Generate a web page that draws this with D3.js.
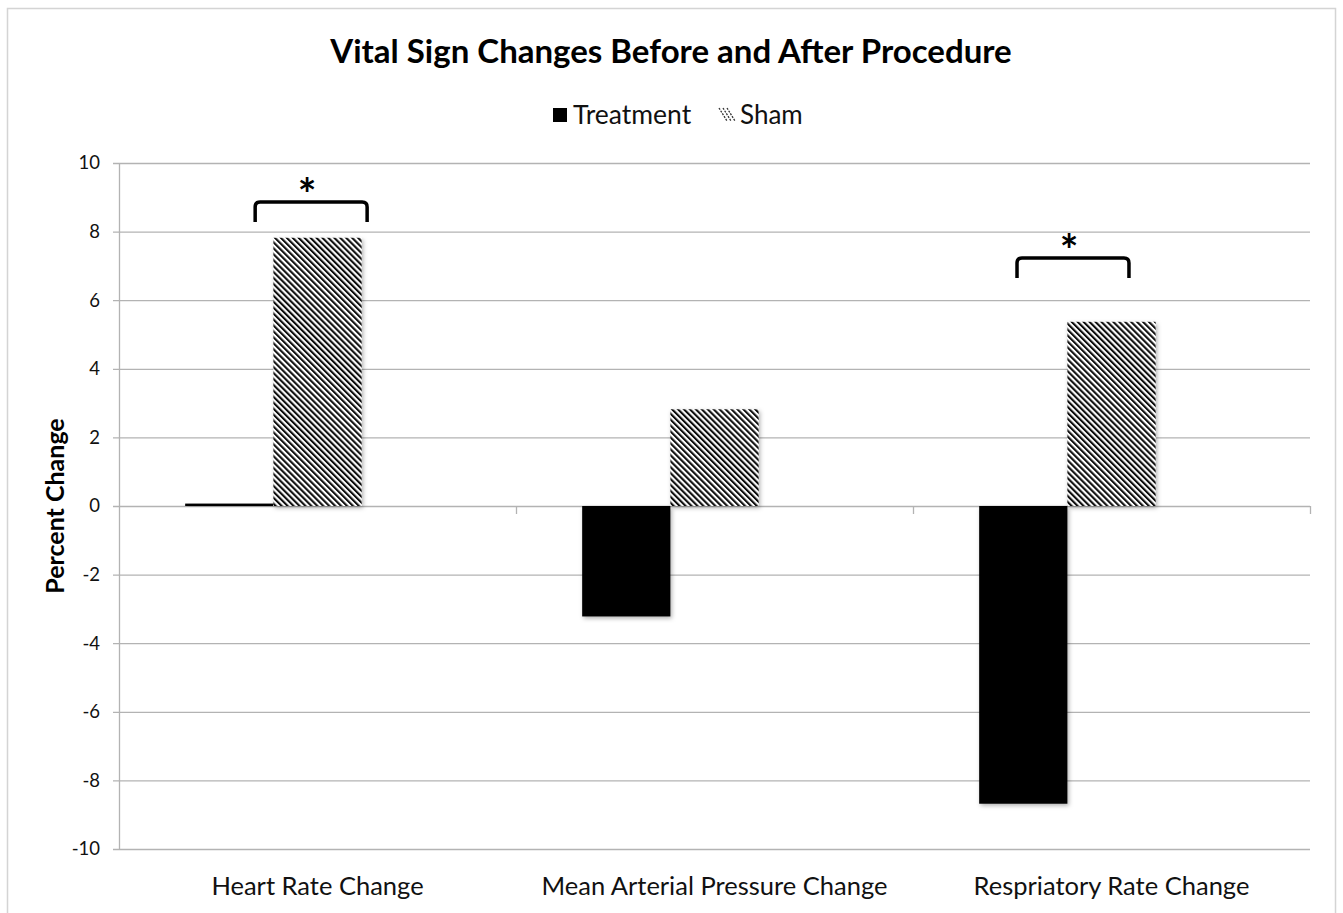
<!DOCTYPE html>
<html><head><meta charset="utf-8">
<script src="https://cdn.jsdelivr.net/npm/d3@7"></script>
<style>body{margin:0;background:#fff;} svg{display:block;}</style>
</head><body>
<svg id="chart" width="1343" height="913"></svg>
<script>
const categories = ["Heart Rate Change", "Mean Arterial Pressure Change", "Respriatory Rate Change"];
const seriesNames = ["Treatment", "Sham"];
const treatment = [0.07, -3.22, -8.68];
const sham = [7.82, 2.82, 5.37];
const yTicks = [-10, -8, -6, -4, -2, 0, 2, 4, 6, 8, 10];
// significance brackets: category, level (in % units)
const bracketCats = ["Heart Rate Change", "Respriatory Rate Change"];
const bracketLevels = [8.86, 7.23];

const font = "Lato, 'Open Sans', sans-serif";
const svg = d3.select("#chart");
const plotLeft = 119, plotRight = 1310, plotTop = 163, plotBottom = 849;

const defs = svg.append("defs");
const pat = defs.append("pattern").attr("id","diag").attr("patternUnits","userSpaceOnUse")
  .attr("width",4.2).attr("height",4.2).attr("patternTransform","rotate(-45)");
pat.append("rect").attr("width",4.2).attr("height",4.2).attr("fill","#fff");
pat.append("rect").attr("x",0).attr("width",2.1).attr("height",4.2).attr("fill","#111");
const filt = defs.append("filter").attr("id","shadow").attr("x","-10%").attr("y","-10%").attr("width","130%").attr("height","130%");
filt.append("feDropShadow").attr("dx",1.5).attr("dy",2).attr("stdDeviation",2).attr("flood-color","#000").attr("flood-opacity",0.3);

// outer frame
svg.append("rect").attr("x",7.5).attr("y",8.5).attr("width",1328).attr("height",920)
  .attr("fill","none").attr("stroke","#d4d4d4").attr("stroke-width",1.5);

const x = d3.scaleBand().domain(categories).range([plotLeft, plotRight]).paddingInner(0).paddingOuter(0);
const y = d3.scaleLinear().domain([-10, 10]).range([plotBottom, plotTop]);
const barW = x.bandwidth() / 4.5;
const gapHalf = barW * 0.75;

// gridlines
svg.append("g").selectAll("line").data(yTicks).join("line")
  .attr("x1", plotLeft - 6).attr("x2", plotRight)
  .attr("y1", d => y(d) + 0.5).attr("y2", d => y(d) + 0.5)
  .attr("stroke", "#b3b3b3").attr("stroke-width", 1.3);

// y axis line
svg.append("line").attr("x1", plotLeft + 0.5).attr("x2", plotLeft + 0.5).attr("y1", plotTop).attr("y2", plotBottom)
  .attr("stroke", "#b3b3b3").attr("stroke-width", 1.3);

// y tick labels
svg.append("g").selectAll("text").data(yTicks).join("text")
  .attr("x", 100).attr("y", d => y(d)).attr("dy", "0.35em")
  .attr("text-anchor", "end").attr("font-family", font).attr("font-size", 18.5).attr("fill", "#111")
  .text(d => d);

// category tick marks on zero line
svg.append("g").selectAll("line").data(categories).join("line")
  .attr("x1", d => x(d) + x.bandwidth() + 0.5)
  .attr("x2", d => x(d) + x.bandwidth() + 0.5)
  .attr("y1", y(0)).attr("y2", y(0) + 8)
  .attr("stroke", "#b3b3b3").attr("stroke-width", 1.3);

// bars
const bars = svg.append("g");
categories.forEach((c, i) => {
  const vals = [treatment[i], sham[i]];
  vals.forEach((v, j) => {
    const bx = x(c) + gapHalf + j * barW;
    bars.append("rect")
      .attr("x", bx).attr("width", barW)
      .attr("y", y(Math.max(0, v))).attr("height", Math.abs(y(v) - y(0)))
      .attr("fill", j === 0 ? "#000" : "url(#diag)")
      .attr("filter", "url(#shadow)");
  });
});

// significance brackets
const br = svg.append("g");
const bracketFrac = [[0.343, 0.625], [0.262, 0.544]];
bracketCats.forEach((c, i) => {
  const x1 = x(c) + x.bandwidth() * bracketFrac[i][0];
  const x2 = x(c) + x.bandwidth() * bracketFrac[i][1];
  const by = y(bracketLevels[i]);
  const r = 5;
  br.append("path")
    .attr("d", `M${x1},${by+20} L${x1},${by+r} Q${x1},${by} ${x1+r},${by} L${x2-r},${by} Q${x2},${by} ${x2},${by+r} L${x2},${by+20}`)
    .attr("fill", "none").attr("stroke", "#000").attr("stroke-width", 3.5);
  br.append("text").attr("x", (x1 + x2) / 2 - 4).attr("y", by + 8)
    .attr("text-anchor", "middle").attr("font-family", font).attr("font-weight", "bold")
    .attr("font-size", 44).attr("fill", "#000").text("*");
});

// category labels
svg.append("g").selectAll("text").data(categories).join("text")
  .attr("x", d => x(d) + x.bandwidth() / 2).attr("y", 886).attr("dy", "0.35em")
  .attr("text-anchor", "middle").attr("font-family", font).attr("font-size", 25.5).attr("fill", "#111")
  .text(d => d);

// title
svg.append("text").attr("x", 671).attr("y", 51).attr("dy", "0.35em")
  .attr("text-anchor", "middle").attr("font-family", font).attr("font-weight", "bold")
  .attr("font-size", 33).attr("fill", "#000").text("Vital Sign Changes Before and After Procedure");

// y axis title
svg.append("text").attr("transform", `translate(55,${y(0)}) rotate(-90)`).attr("dy", "0.35em")
  .attr("text-anchor", "middle").attr("font-family", font).attr("font-weight", "bold")
  .attr("font-size", 25).attr("fill", "#000").text("Percent Change");

// legend
const lg = svg.append("g");
lg.append("rect").attr("x", 553).attr("y", 108).attr("width", 14).attr("height", 14).attr("fill", "#000");
lg.append("text").attr("x", 573).attr("y", 115).attr("dy", "0.35em").attr("font-family", font)
  .attr("font-size", 26.5).attr("fill", "#111").text(seriesNames[0]);
const li = lg.append("g");
[0, 4, 8].forEach(o => {
  li.append("line").attr("x1", 719 + o).attr("y1", 108).attr("x2", 719 + o + 8).attr("y2", 121)
    .attr("stroke", "#333").attr("stroke-width", 1.3).attr("stroke-dasharray", "2,1.2");
});
lg.append("text").attr("x", 740).attr("y", 115).attr("dy", "0.35em").attr("font-family", font)
  .attr("font-size", 26).attr("fill", "#111").text(seriesNames[1]);
</script>
</body></html>
